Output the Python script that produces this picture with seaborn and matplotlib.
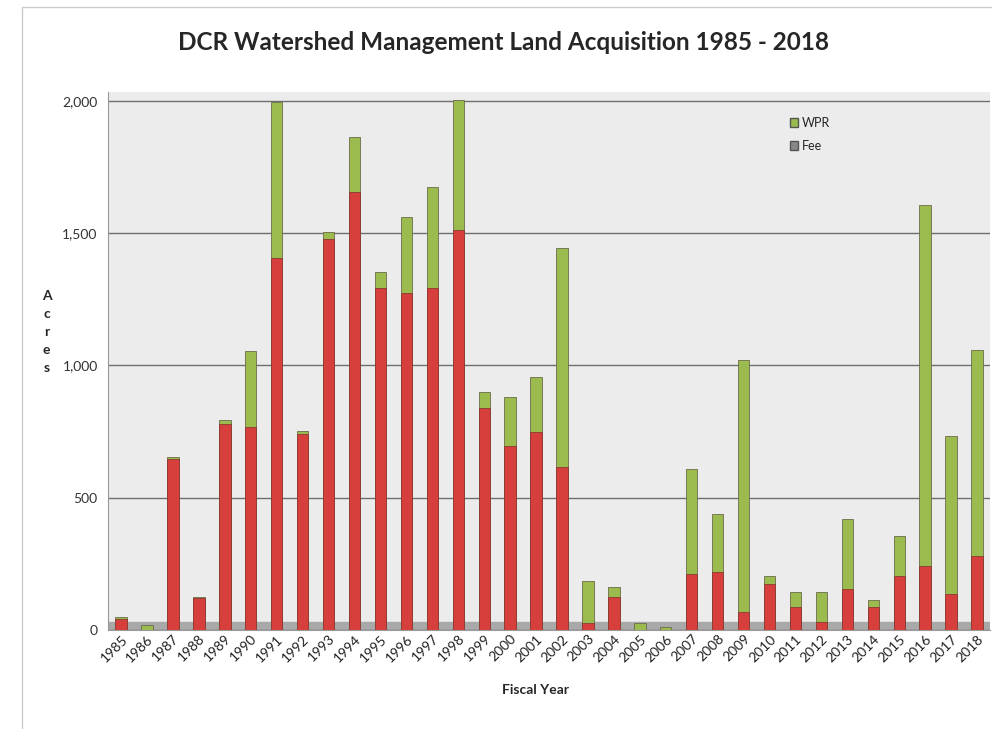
import matplotlib
matplotlib.use("Agg")
import matplotlib.pyplot as plt
import seaborn as sns
import pandas as pd
from matplotlib.patches import Patch

# fiscal years and acres per type
years = [str(y) for y in range(1985, 2019)]
fee = [42, 0, 645, 120, 780, 766, 1408, 740, 1480, 1657, 1294, 1275, 1294, 1513,
       841, 694, 747, 615, 25, 125, 0, 0, 211, 219, 68, 174, 87, 30, 155, 87,
       204, 242, 136, 279]
wpr = [8, 18, 10, 5, 15, 287, 590, 12, 25, 207, 60, 287, 381, 490,
       57, 185, 211, 830, 160, 37, 25, 10, 397, 219, 951, 30, 56, 113, 264, 26,
       151, 1366, 596, 781]
yticks = [0, 500, 1000, 1500, 2000]

df = pd.DataFrame({"year": years, "Fee": fee, "WPR": wpr})
df["total"] = df["Fee"] + df["WPR"]

sns.set_style("white")
plt.rcParams["font.family"] = ["Lato", "DejaVu Sans"]

fig = plt.figure(figsize=(9.92, 7.29), dpi=100)
ax = fig.add_axes([0.109, 0.136, 0.889, 0.738])
ax.set_facecolor("#ececec")

# grey floor like the original 3D chart
ax.axhspan(0, 30, color="#a9a9a9", zorder=0)

green = "#9bbb4f"
red = "#d63f3c"
sns.barplot(data=df, x="year", y="total", order=years, color=green, width=0.44,
            edgecolor="#6b6b4a", linewidth=0.6, saturation=1, ax=ax, zorder=3)
sns.barplot(data=df, x="year", y="Fee", order=years, color=red, width=0.44,
            edgecolor="#8a3a30", linewidth=0.6, saturation=1, ax=ax, zorder=4)

ax.set_ylim(0, 2035)
ax.set_xlim(-0.5, len(years) - 0.5)
ax.set_yticks(yticks)
ax.set_yticklabels([f"{v:,}" for v in yticks], fontsize=10, color="#333333")
ax.yaxis.grid(True, color="#6f6f6f", linewidth=1.0, zorder=1)
ax.set_axisbelow(True)
ax.tick_params(axis="y", length=4, color="#888888")
ax.tick_params(axis="x", length=0, pad=2)
plt.setp(ax.get_xticklabels(), rotation=45, ha="right", rotation_mode="anchor",
         fontsize=10, color="#222222")

for s in ["top", "right"]:
    ax.spines[s].set_visible(False)
ax.spines["left"].set_color("#999999")
ax.spines["bottom"].set_color("#999999")

ax.set_xlabel("Fiscal Year", fontsize=10, fontweight="bold", labelpad=8)
ax.xaxis.set_label_coords(0.485, -0.1)
ax.set_ylabel("")
fig.text(0.047, 0.545, "A\nc\nr\ne\ns", fontsize=10, fontweight="bold",
         ha="center", va="center", linespacing=1.6)

fig.suptitle("DCR Watershed Management Land Acquisition 1985 - 2018",
             x=0.508, y=0.958, fontsize=17.5, fontweight="bold")

handles = [Patch(facecolor=green, edgecolor="#555555", label="WPR"),
           Patch(facecolor="#888888", edgecolor="#555555", label="Fee")]
ax.legend(handles=handles, loc="upper left", bbox_to_anchor=(0.76, 0.975),
          frameon=False, fontsize=9, handlelength=0.7, handleheight=0.7,
          handletextpad=0.3, labelspacing=0.9)

# thin frame lines at the left and top edge of the picture
fig.add_artist(plt.Line2D([0.022, 0.022], [0.0, 0.99], color="#cccccc", lw=1))
fig.add_artist(plt.Line2D([0.022, 1.0], [0.99, 0.99], color="#cccccc", lw=1))

fig.savefig("out.png", dpi=100)
